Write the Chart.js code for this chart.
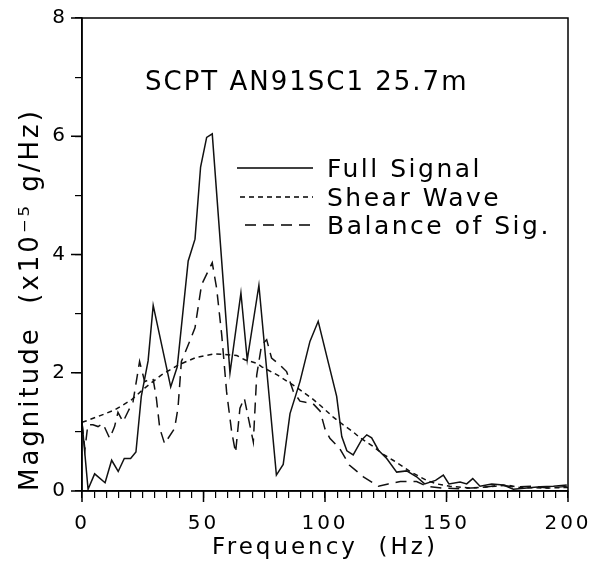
<!DOCTYPE html>
<html>
<head>
<meta charset="utf-8">
<script src="https://cdn.jsdelivr.net/npm/chart.js@4.4.1/dist/chart.umd.min.js"></script>
<style>
    html, body { margin: 0; padding: 0; background: #fff; }
    canvas { display: block; }
</style>
</head>
<body>
<canvas id="grafico" width="597" height="561"></canvas>
<script>
// Full Signal
const fullHz = [0, 2.5, 5.2, 9.5, 12.2, 14.9, 17.4, 20, 22.2, 24.4, 27.2, 29.3, 36.5, 39.2, 43.7, 46.5, 48.8, 51.3, 53.6,
    60.9, 65.4, 68, 72.8, 80, 82.8, 85.6, 89.7, 93.8, 97.2, 101.5, 104.8, 106.9, 109, 111.6, 115, 117.2, 119.2, 122,
    125.4, 129.5, 133.6, 137.7, 141, 145.5, 148.7, 151, 155.6, 158.3, 160.8, 163.8, 168.6, 173.4, 177.5, 183, 188.5, 194, 199.5]
const fullMag = [1.17, 0.03, 0.29, 0.14, 0.52, 0.33, 0.55, 0.55, 0.66, 1.6, 2.2, 3.14, 1.76, 2.1, 3.89, 4.26, 5.48, 5.98, 6.04,
    2.0, 3.35, 2.22, 3.48, 0.27, 0.45, 1.31, 1.85, 2.53, 2.87, 2.15, 1.6, 0.92, 0.68, 0.61, 0.86, 0.95, 0.9, 0.69,
    0.55, 0.32, 0.34, 0.24, 0.12, 0.18, 0.27, 0.12, 0.15, 0.12, 0.21, 0.08, 0.12, 0.1, 0.03, 0.05, 0.07, 0.08, 0.1]

// Shear Wave
const shearHz = [0, 6.6, 13.4, 20.3, 25.8, 32.6, 39.5, 47, 54.7, 58.8, 63.7, 67, 71.9, 74, 80.5, 87.7, 94.5, 98, 103.4,
    107.5, 111.6, 114.4, 119.9, 124, 128, 132.2, 135, 141.8, 146, 151.4, 160, 170, 175, 180, 190, 200]
const shearMag = [1.16, 1.26, 1.37, 1.54, 1.74, 1.96, 2.13, 2.26, 2.32, 2.31, 2.29, 2.22, 2.16, 2.1, 1.96, 1.77, 1.57, 1.45, 1.25,
    1.12, 1.0, 0.9, 0.75, 0.62, 0.52, 0.41, 0.33, 0.18, 0.12, 0.08, 0.05, 0.08, 0.1, 0.06, 0.05, 0.06]

// Balance of Sig.
const balHz = [0, 1.2, 2.4, 4.5, 6.6, 8.6, 11.4, 13.4, 14.8, 16.9, 18.9, 21, 23.7, 25.8, 29.2, 30.6, 32, 34, 38.1, 39.5,
    40.9, 44.3, 46.5, 49.2, 53.6, 55.4, 57.5, 59.5, 61.6, 63.2, 65, 66.8, 68.5, 70.5, 71.9, 73.9, 76, 78, 81.5, 84.2,
    87, 89.7, 92, 95, 98, 100, 102, 106, 110, 115.8, 122, 126, 131, 137.7, 141.8, 148, 155, 160, 165, 172, 178, 185, 192, 200]
const balMag = [1.15, 0.7, 1.12, 1.12, 1.09, 1.14, 0.89, 1.09, 1.33, 1.17, 1.34, 1.51, 2.19, 1.85, 1.91, 1.57, 1.06, 0.8, 1.06, 1.4,
    2.19, 2.53, 2.76, 3.49, 3.86, 3.43, 2.64, 1.68, 1.0, 0.65, 1.4, 1.57, 1.23, 0.83, 1.96, 2.47, 2.56, 2.25, 2.13, 2.02,
    1.68, 1.52, 1.5, 1.48, 1.35, 1.05, 0.89, 0.72, 0.44, 0.24, 0.08, 0.12, 0.16, 0.16, 0.08, 0.05, 0.04, 0.05, 0.06, 0.1, 0.07, 0.08, 0.05, 0.08]

const etiquetas = ['Full Signal', 'Shear Wave', 'Balance of Sig.']
const anotacion = 'SCPT AN91SC1 25.7m'
const xMayores = [0, 50, 100, 150, 200]
const yMayores = [0, 2, 4, 6, 8]

const juntar = (xs, ys) => xs.map((x, i) => ({ x: x, y: ys[i] }))

const fuente = '"DejaVu Sans", sans-serif'

// sin relleno extra alrededor del area del grafico
const sinPadding = (s) => {
    s.paddingLeft = 0
    s.paddingRight = 0
    s.paddingTop = 0
    s.paddingBottom = 0
}

// marco, ticks largos, anotacion y leyenda
const marco = {
    id: 'marco',
    beforeDraw(chart) {
        chart.ctx.letterSpacing = '3px'
    },
    afterDraw(chart) {
        const { ctx, chartArea: a, scales } = chart
        ctx.save()
        ctx.strokeStyle = '#000'
        ctx.lineWidth = 1.5
        ctx.setLineDash([])
        ctx.strokeRect(a.left, a.top, a.right - a.left, a.bottom - a.top)
        ctx.beginPath()
        xMayores.forEach(v => {
            const px = scales.x.getPixelForValue(v)
            ctx.moveTo(px, a.bottom)
            ctx.lineTo(px, a.bottom + 11)
        })
        yMayores.forEach(v => {
            const py = scales.y.getPixelForValue(v)
            ctx.moveTo(a.left - 11, py)
            ctx.lineTo(a.left, py)
        })
        ctx.stroke()

        ctx.fillStyle = '#000'
        ctx.textBaseline = 'middle'
        ctx.textAlign = 'left'
        ctx.font = '26px ' + fuente
        ctx.letterSpacing = '2px'
        ctx.fillText(anotacion, 145, 83)

        const inicio = [237, 240, 245]
        const alto = [168, 197, 225]
        ctx.font = '25px ' + fuente
        ctx.letterSpacing = '2.5px'
        chart.data.datasets.forEach((ds, i) => {
            ctx.setLineDash(ds.borderDash || [])
            ctx.lineWidth = 1.5
            ctx.beginPath()
            ctx.moveTo(inicio[i], alto[i])
            ctx.lineTo(313, alto[i])
            ctx.stroke()
            ctx.fillText(ds.label, 327, alto[i] + 2)
        })
        ctx.restore()
    }
}

new Chart(document.getElementById('grafico'), {
    type: 'line',
    data: {
        datasets: [
            {
                label: etiquetas[0],
                data: juntar(fullHz, fullMag),
                borderColor: '#111',
                borderWidth: 1.5,
                borderDash: []
            }, {
                label: etiquetas[1],
                data: juntar(shearHz, shearMag),
                borderColor: '#111',
                borderWidth: 1.5,
                borderDash: [5, 4]
            }, {
                label: etiquetas[2],
                data: juntar(balHz, balMag),
                borderColor: '#111',
                borderWidth: 1.5,
                borderDash: [11, 7]
            }
        ]
    },
    options: {
        responsive: false,
        animation: false,
        layout: { padding: { top: 18, right: 29, left: 0, bottom: 0 } },
        elements: { point: { radius: 0 }, line: { tension: 0, fill: false } },
        plugins: { legend: { display: false }, tooltip: { enabled: false } },
        scales: {
            x: {
                type: 'linear',
                min: 0,
                max: 200,
                afterFit: (s) => { s.height = 70; sinPadding(s) },
                ticks: {
                    stepSize: 5,
                    autoSkip: false,
                    maxRotation: 0,
                    padding: 14,
                    color: '#000',
                    font: { family: fuente, size: 20 },
                    callback: (v) => v % 50 === 0 ? v : ''
                },
                grid: { drawOnChartArea: false, drawTicks: true, tickLength: 7, color: '#000', lineWidth: 1.2 },
                border: { display: true, color: '#000', width: 1.5 },
                title: {
                    display: true,
                    text: 'Frequency  (Hz)',
                    color: '#000',
                    font: { family: fuente, size: 23, lineHeight: 1 },
                    padding: { top: 0, bottom: 1 }
                }
            },
            y: {
                min: 0,
                max: 8,
                afterFit: (s) => { s.width = 82; sinPadding(s) },
                ticks: {
                    stepSize: 1,
                    padding: 7,
                    color: '#000',
                    font: { family: fuente, size: 20 },
                    callback: (v) => v % 2 === 0 ? v : ''
                },
                grid: { drawOnChartArea: false, drawTicks: true, tickLength: 7, color: '#000', lineWidth: 1.2 },
                border: { display: true, color: '#000', width: 1.5 },
                title: {
                    display: true,
                    align: 'start',
                    text: 'Magnitude  (x10⁻⁵ g/Hz)',
                    color: '#000',
                    font: { family: fuente, size: 26, lineHeight: 1.2 },
                    padding: { top: 16, bottom: 0 }
                }
            }
        }
    },
    plugins: [marco]
});
</script>
</body>
</html>
